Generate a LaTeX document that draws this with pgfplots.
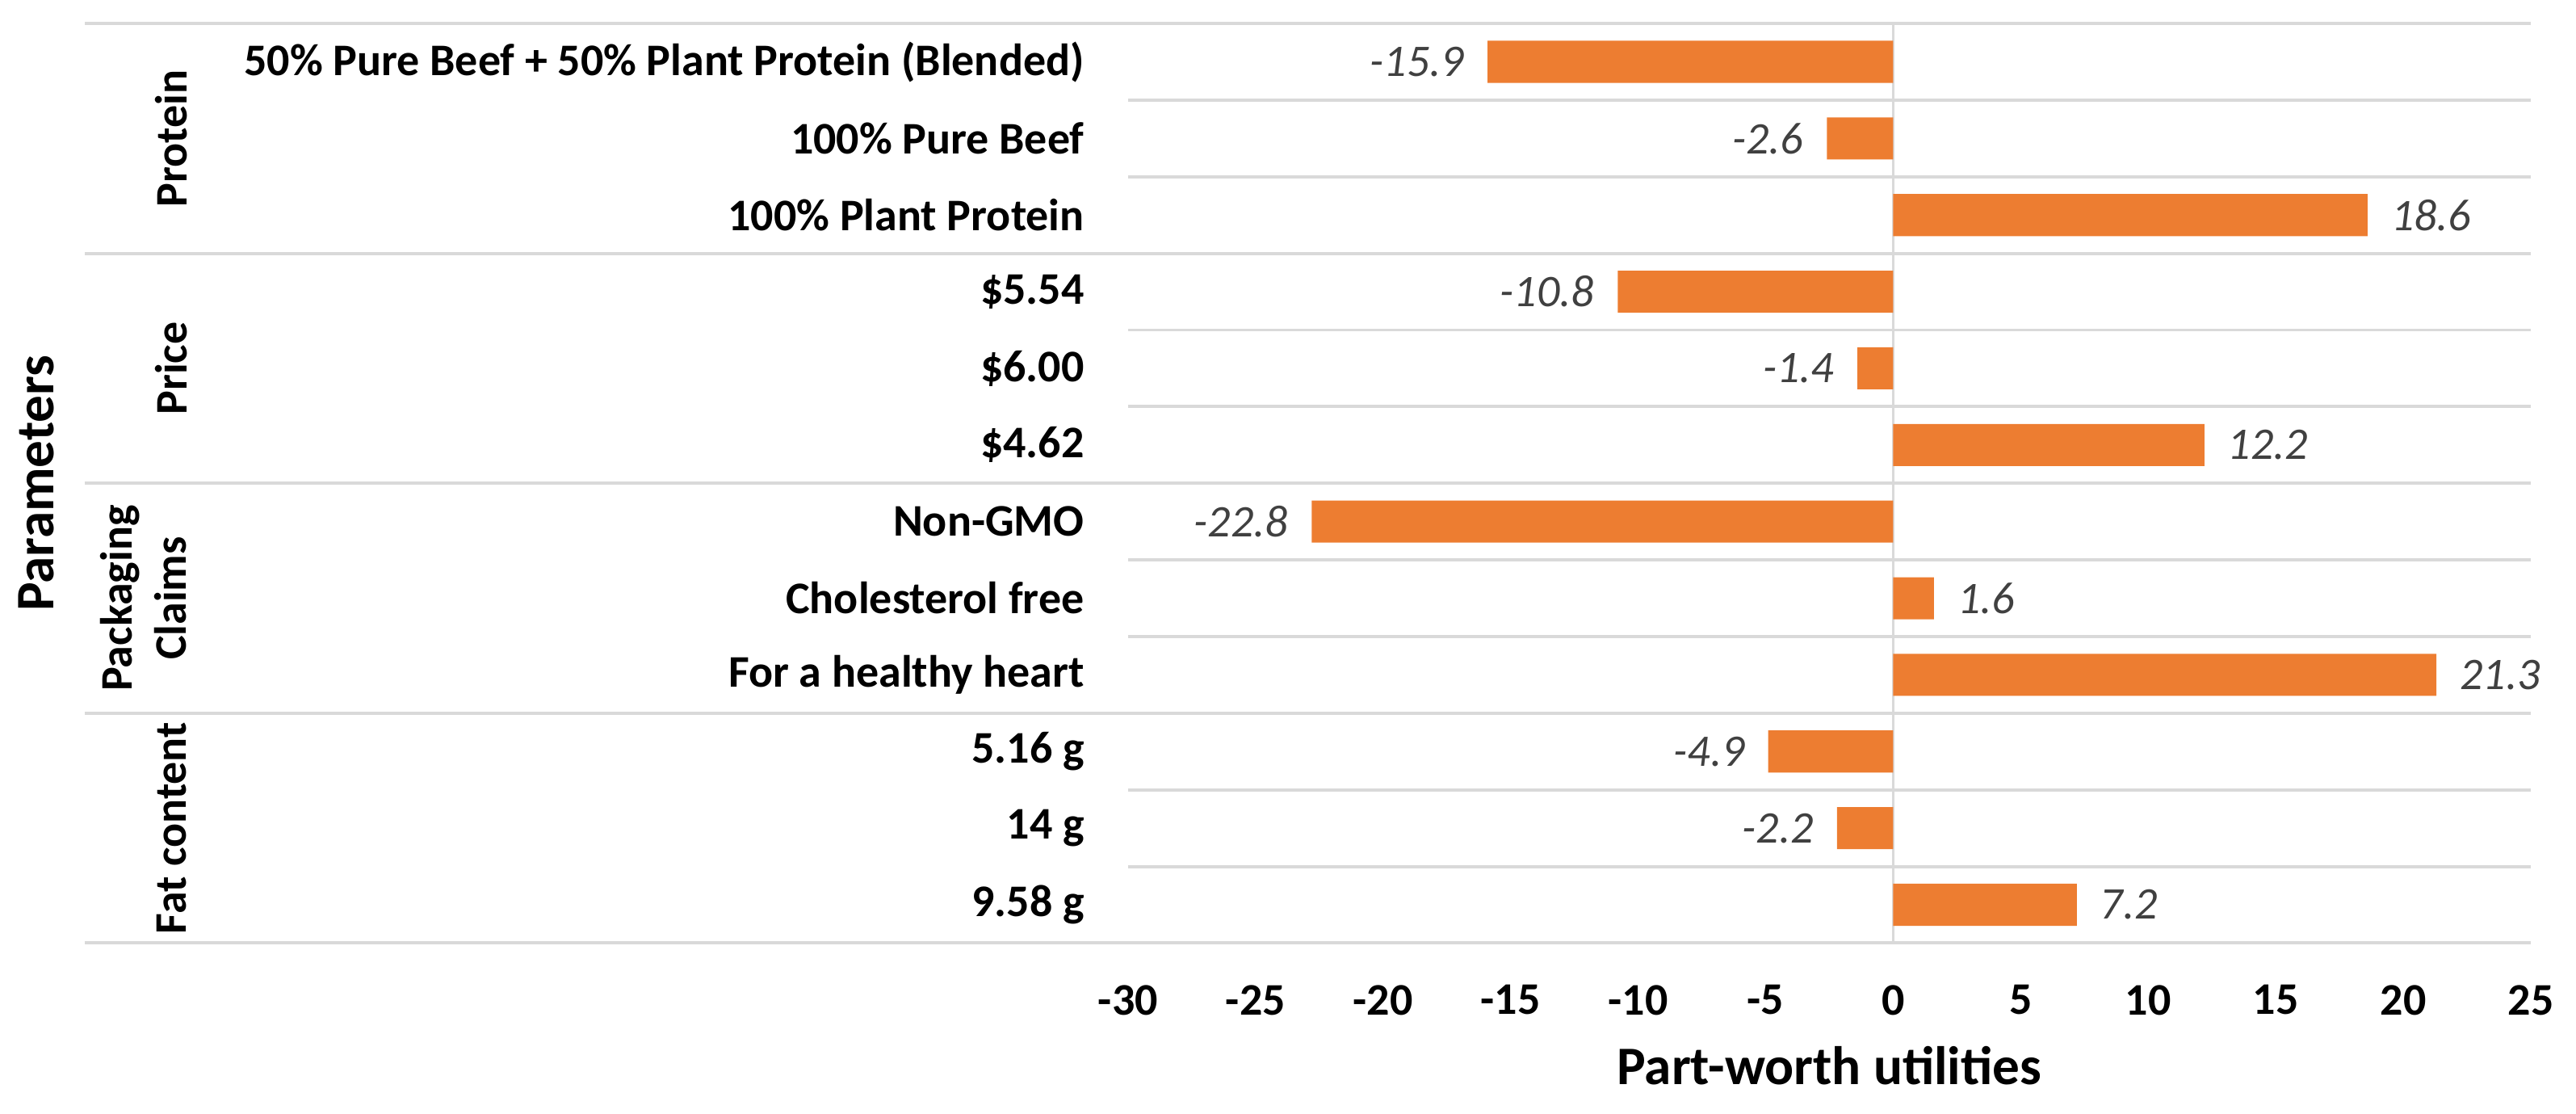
\documentclass[border=0pt]{standalone}
\usepackage{fontspec}
\setmainfont{Carlito}
\usepackage{pgfplots}
\pgfplotsset{compat=1.18}
\definecolor{barc}{HTML}{ED7D31}
\definecolor{gridc}{HTML}{D9D9D9}
\definecolor{lblc}{HTML}{404040}
\newcommand{\lblfont}{\fontsize{10}{12}\selectfont\bfseries}
\begin{document}
\begin{tikzpicture}
\useasboundingbox (0,0) rectangle (570pt,246.25pt);
\begin{axis}[
  at={(249.6pt,37.65pt)}, anchor=south west,
  scale only axis, width=310.4pt, height=203.4pt,
  xbar, bar width=9.3pt, bar shift=0pt,
  xmin=-30, xmax=25, ymin=0.5, ymax=12.5,
  axis line style={draw=none}, major tick length=0pt,
  xtick={-30,-25,...,25},
  xticklabels={-30,-25,-20,-15,-10,-5,0,5,10,15,20,25},
  ytick={1,...,12},
  yticklabels={9.58 g, 14 g, 5.16 g, For a healthy heart, Cholesterol free, Non-GMO,
    \$4.62, \$6.00, \$5.54, 100\% Plant Protein, 100\% Pure Beef,
    50\% Pure Beef + 50\% Plant Protein (Blended)},
  xticklabel style={font=\lblfont, anchor=north, inner sep=0pt, yshift=-9.1pt},
  yticklabel style={font=\lblfont, anchor=east, inner sep=0pt, xshift=-9.5pt},
  clip=false,
  point meta=explicit symbolic,
  nodes near coords={\pgfplotspointmeta},
  every node near coord/.append style={font=\fontsize{10}{12}\selectfont\itshape, text=lblc, inner sep=0pt},
]
% row lines and group separators
\pgfplotsinvokeforeach{1.5,2.5,4.5,5.5,7.5,8.5,10.5,11.5}{
  \draw[gridc, line width=0.7pt] (axis cs:-30,#1) -- (axis cs:25,#1);
}
\pgfplotsinvokeforeach{0.5,3.5,6.5,9.5,12.5}{
  \draw[gridc, line width=0.7pt] (axis cs:-70.9,#1) -- (axis cs:25,#1);
}
\draw[gridc, line width=0.5pt] (axis cs:0,0.5) -- (axis cs:0,12.5);

% negative values
\addplot[fill=barc, draw=none,
  every node near coord/.append style={anchor=east, xshift=-5pt}]
  coordinates {(-15.9,12) [-15.9] (-2.6,11) [-2.6] (-10.8,9) [-10.8]
    (-1.4,8) [-1.4] (-22.8,6) [-22.8] (-4.9,3) [-4.9] (-2.2,2) [-2.2]};
% positive values
\addplot[fill=barc, draw=none,
  every node near coord/.append style={anchor=west, xshift=5pt}]
  coordinates {(18.6,10) [18.6] (12.2,7) [12.2] (1.6,5) [1.6]
    (21.3,4) [21.3] (7.2,1) [7.2]};

% group labels
\node[rotate=90, font=\lblfont] at (axis cs:-67.5,11) {Protein};
\node[rotate=90, font=\lblfont] at (axis cs:-67.5,8) {Price};
\node[rotate=90, font=\lblfont, align=center] at (axis cs:-68.6,5) {Packaging\\Claims};
\node[rotate=90, font=\lblfont] at (axis cs:-67.5,2) {Fat content};
% axis titles
\node[rotate=90, font=\fontsize{12}{14}\selectfont\bfseries] at (axis cs:-72.8,6.5) {Parameters};
\node[font=\fontsize{12}{14}\selectfont\bfseries] at (axis cs:-2.5,-1.1) {Part-worth utilities};
\end{axis}
\end{tikzpicture}
\end{document}
